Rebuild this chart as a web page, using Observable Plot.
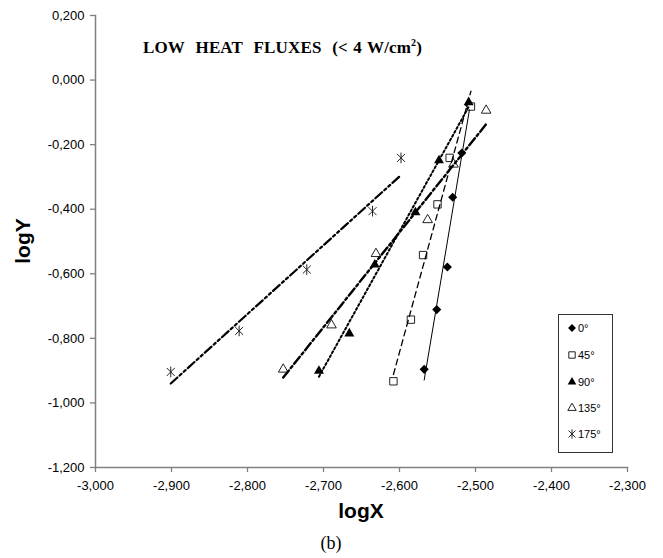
<!DOCTYPE html>
<html><head><meta charset="utf-8">
<script src="https://cdn.jsdelivr.net/npm/d3@7"></script>
<script src="https://cdn.jsdelivr.net/npm/@observablehq/plot@0.6"></script>
<style>
body{margin:0;background:#fff;}
#wrap{position:relative;width:663px;height:558px;}
#wrap svg.overlay{position:absolute;left:0;top:0;pointer-events:none;}
</style></head><body><div id="wrap"></div>
<script>
// ---- data ----
const seriesNames = ["0°", "45°", "90°", "135°", "175°"];
const x0deg = [-2.5675, -2.551, -2.537, -2.530, -2.518, -2.508];
const y0deg = [-0.896, -0.711, -0.579, -0.363, -0.226, -0.078];
const x45 = [-2.608, -2.585, -2.569, -2.550, -2.534, -2.506];
const y45 = [-0.933, -0.742, -0.542, -0.385, -0.241, -0.082];
const x90 = [-2.706, -2.666, -2.6325, -2.579, -2.548, -2.509];
const y90 = [-0.901, -0.785, -0.572, -0.410, -0.249, -0.069];
const x135 = [-2.753, -2.6895, -2.631, -2.563, -2.529, -2.486];
const y135 = [-0.896, -0.759, -0.538, -0.433, -0.261, -0.094];
const x175 = [-2.901, -2.811, -2.722, -2.6355, -2.598];
const y175 = [-0.904, -0.777, -0.587, -0.406, -0.241];
const xTicks = [-3.0, -2.9, -2.8, -2.7, -2.6, -2.5, -2.4, -2.3];
const yTicks = [0.2, 0.0, -0.2, -0.4, -0.6, -0.8, -1.0, -1.2];
const titleText = "LOW  HEAT  FLUXES  (< 4 W/cm";
const xLabel = "logX", yLabel = "logY", caption = "(b)";

// ---- build tables ----
const xs = [x0deg, x45, x90, x135, x175];
const ys = [y0deg, y45, y90, y135, y175];
const tables = seriesNames.map((s, i) => xs[i].map((x, j) => ({s, x, y: ys[i][j]})));

const starSym = {
  draw(ctx, size) {
    const r = Math.sqrt(size) * 0.6;
    const d = r * 0.75;
    ctx.moveTo(0, -r); ctx.lineTo(0, r);
    ctx.moveTo(-d, -d); ctx.lineTo(d, d);
    ctx.moveTo(-d, d); ctx.lineTo(d, -d);
  }
};
const styles = [
  {symbol: "diamond2", fill: "black", stroke: "none", r: 4.1, dash: null, lw: 1},
  {symbol: "square2", fill: "white", stroke: "#222", r: 4.7, dash: "6,4", lw: 1.3},
  {symbol: "triangle", fill: "black", stroke: "none", r: 3.7, dash: "2,2.5", lw: 2},
  {symbol: "triangle2", fill: "white", stroke: "#222", r: 4.6, dash: "9,3,2.5,3", lw: 2.4},
  {symbol: starSym, fill: "none", stroke: "#222", r: 5, dash: "9,3,2.5,3,2.5,3", lw: 2.2}
];

const loc = d3.formatLocale({decimal: ",", thousands: ".", grouping: [3], currency: ["", ""], minus: "-"});
const fmt = loc.format(".3f");

const marks = [];
tables.forEach((t, i) => {
  const st = styles[i];
  marks.push(Plot.dot(t, {x: "x", y: "y", symbol: st.symbol, r: st.r, fill: st.fill, stroke: st.stroke, strokeWidth: 1}));
});
tables.forEach((t, i) => {
  const st = styles[i];
  marks.push(Plot.linearRegressionY(t, {x: "x", y: "y", ci: 0, stroke: "black", strokeWidth: st.lw, strokeDasharray: st.dash}));
});

const chart = Plot.plot({
  width: 663, height: 558,
  marginLeft: 95, marginRight: 36, marginTop: 15, marginBottom: 91,
  style: {fontFamily: "'Liberation Sans', Arial, sans-serif", fontSize: "13px", color: "black", background: "white"},
  x: {domain: [-3.0, -2.3]},
  y: {domain: [-1.2, 0.2]},
  marks: [
    Plot.axisX({ticks: xTicks, tickFormat: fmt, tickSize: 5, tickPadding: 8, stroke: "#808080", strokeWidth: 1.3, label: null, fill: "black"}),
    Plot.axisY({ticks: yTicks, tickFormat: fmt, tickSize: 5, tickPadding: 6, stroke: "#808080", strokeWidth: 1.3, label: null, fill: "black"}),
    Plot.frame({anchor: "bottom", stroke: "#808080", strokeWidth: 1.5}),
    Plot.frame({anchor: "left", stroke: "#808080", strokeWidth: 1.5}),
    ...marks
  ]
});
const wrap = document.getElementById("wrap");
wrap.appendChild(chart);

// ---- overlay texts and legend ----
const ov = d3.select(wrap).append("svg").attr("class", "overlay").attr("width", 663).attr("height", 558);
const t = ov.append("text").attr("x", 143).attr("y", 53)
  .attr("font-family", "'Liberation Serif', 'Times New Roman', serif").attr("font-weight", "bold")
  .attr("font-size", 17).attr("letter-spacing", 0.15).attr("word-spacing", 1)
  .attr("xml:space", "preserve").style("white-space", "pre");
t.append("tspan").text(titleText);
t.append("tspan").attr("font-size", 10).attr("dy", -7).text("2");
t.append("tspan").attr("dy", 7).text(")");

ov.append("text").attr("x", 361).attr("y", 518).attr("text-anchor", "middle")
  .attr("font-family", "'Liberation Sans', Arial, sans-serif").attr("font-weight", "bold").attr("font-size", 21).text(xLabel);
ov.append("text").attr("transform", "translate(30,241) rotate(-90)").attr("text-anchor", "middle")
  .attr("font-family", "'Liberation Sans', Arial, sans-serif").attr("font-weight", "bold").attr("font-size", 21).text(yLabel);
ov.append("text").attr("x", 331).attr("y", 549).attr("text-anchor", "middle")
  .attr("font-family", "'Liberation Serif', 'Times New Roman', serif").attr("font-size", 18).text(caption);

const lg = ov.append("g");
lg.append("rect").attr("x", 558.5).attr("y", 314.5).attr("width", 54).attr("height", 138)
  .attr("fill", "white").attr("stroke", "#333").attr("stroke-width", 1);
const d3syms = [d3.symbolDiamond2, d3.symbolSquare2, d3.symbolTriangle, d3.symbolTriangle2, starSym];
const rowY = [328, 355, 382, 408, 434];
seriesNames.forEach((s, i) => {
  const st = styles[i];
  const size = Math.PI * st.r * st.r * 0.75;
  lg.append("path").attr("transform", `translate(572,${rowY[i]})`)
    .attr("d", d3.symbol(d3syms[i], size)())
    .attr("fill", st.fill).attr("stroke", st.stroke).attr("stroke-width", 1);
  lg.append("text").attr("x", 578).attr("y", rowY[i] + 4)
    .attr("font-family", "'Liberation Sans', Arial, sans-serif").attr("font-size", 11).text(s);
});
</script></body></html>
